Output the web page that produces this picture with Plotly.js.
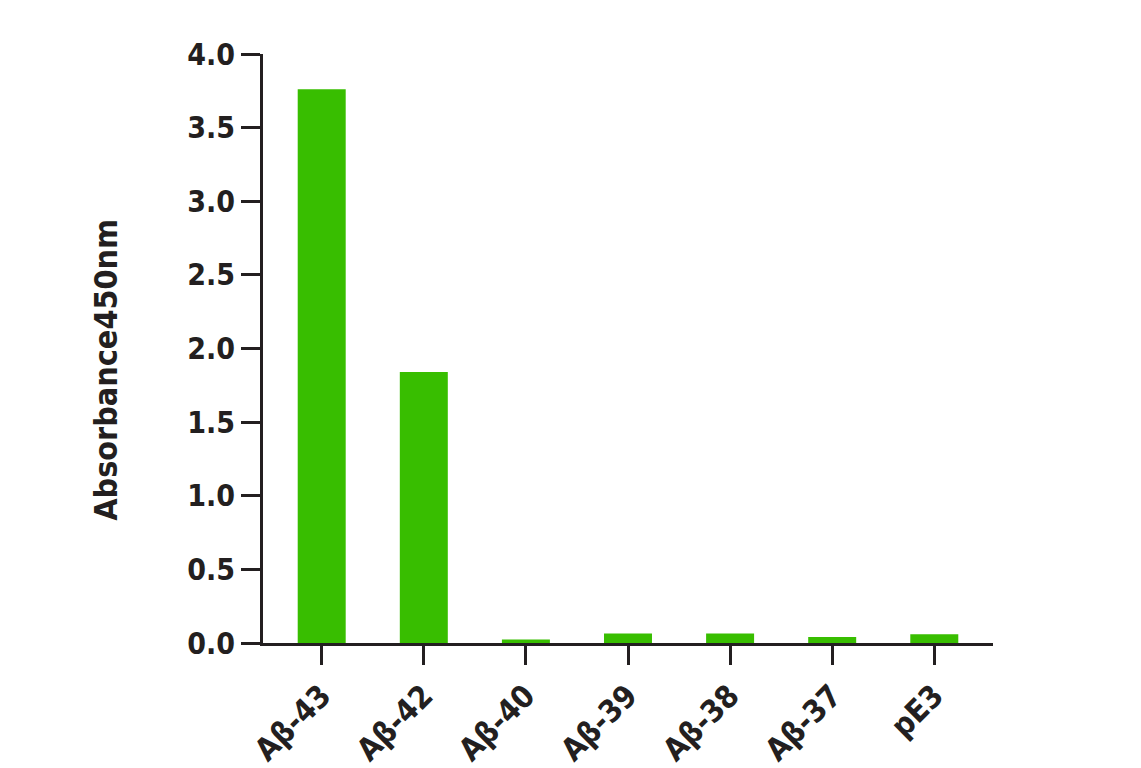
<!DOCTYPE html>
<html>
<head>
<meta charset="utf-8">
<script src="https://cdn.plot.ly/plotly-3.0.1.min.js"></script>
<style>html,body{margin:0;padding:0;background:#fff;}#chart{width:1141px;height:768px;}</style>
</head>
<body>
<div id="chart"></div>
<script>
const categories = ["Aβ-43", "Aβ-42", "Aβ-40", "Aβ-39", "Aβ-38", "Aβ-37", "pE3"];
const absorbance = [3.76, 1.84, 0.024, 0.064, 0.064, 0.04, 0.06];
const yTickVals = [0, 0.5, 1, 1.5, 2, 2.5, 3, 3.5, 4];
const yTickText = ["0.0", "0.5", "1.0", "1.5", "2.0", "2.5", "3.0", "3.5", "4.0"];
const yTitle = "Absorbance450nm";

const FONT = "'Liberation Sans Narrow', 'DejaVu Sans Condensed', 'Roboto Condensed', sans-serif";
const INK = "#231f20";

const trace = {
  type: "bar",
  x: categories,
  y: absorbance,
  width: 0.47,
  marker: {color: "#38be00", line: {width: 0}},
  hoverinfo: "x+y"
};

const layout = {
  width: 1141,
  height: 768,
  margin: {l: 263, r: 148, t: 54, b: 125},
  paper_bgcolor: "#ffffff",
  plot_bgcolor: "#ffffff",
  showlegend: false,
  font: {family: FONT, color: INK, weight: 700},
  xaxis: {
    type: "category",
    range: [-0.575, 6.575],
    showgrid: false,
    zeroline: false,
    showline: true,
    linecolor: INK,
    linewidth: 3,
    ticks: "outside",
    ticklen: 19,
    tickwidth: 3,
    tickcolor: INK,
    tickangle: -45,
    tickfont: {family: FONT, size: 31, color: INK, weight: 700}
  },
  yaxis: {
    range: [0, 4],
    tickvals: yTickVals,
    ticktext: yTickText,
    showgrid: false,
    zeroline: false,
    showline: true,
    linecolor: INK,
    linewidth: 3,
    ticks: "outside",
    ticklen: 19,
    tickwidth: 3,
    tickcolor: INK,
    tickfont: {family: FONT, size: 30, color: INK, weight: 700}
  },
  annotations: [{
    text: yTitle,
    xref: "paper", yref: "paper",
    x: -0.215, y: 0.464,
    xanchor: "center", yanchor: "middle",
    textangle: -90,
    showarrow: false,
    font: {family: FONT, size: 32, color: INK, weight: 700}
  }]
};

Plotly.newPlot("chart", [trace], layout, {displayModeBar: false, staticPlot: true});
</script>
</body>
</html>
